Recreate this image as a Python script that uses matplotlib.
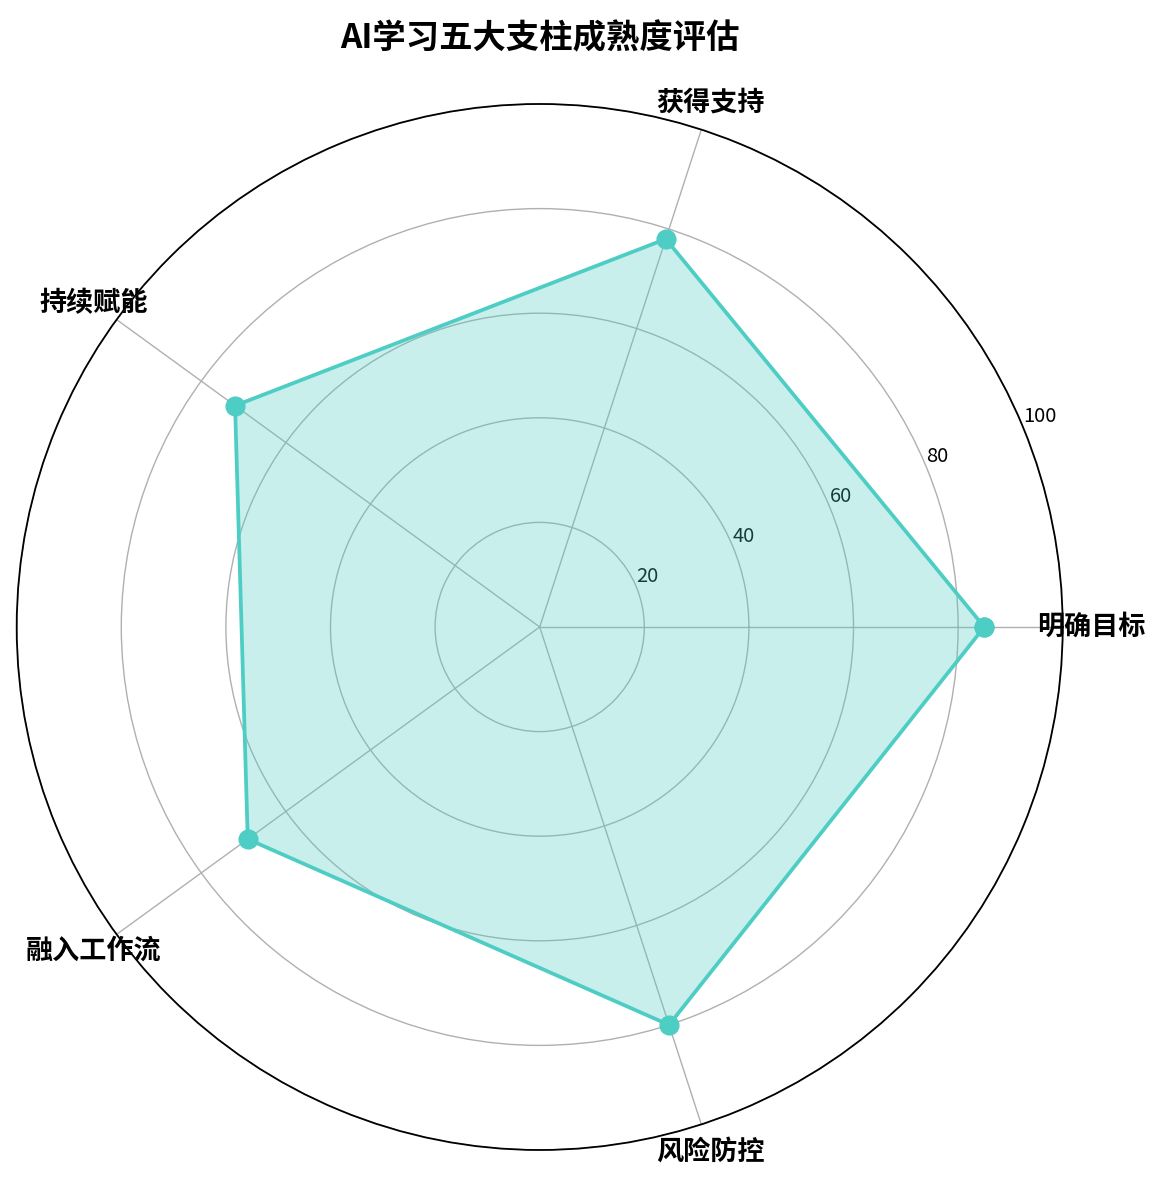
import numpy as np
import matplotlib
matplotlib.use("Agg")
import matplotlib.pyplot as plt

plt.rcParams["font.family"] = ["Noto Sans CJK SC", "DejaVu Sans"]

TITLE = "AI学习五大支柱成熟度评估"
categories = ["明确目标", "获得支持", "持续赋能", "融入工作流", "风险防控"]
scores = [85, 78, 72, 69, 80]
r_ticks = [20, 40, 60, 80, 100]

LINE_COLOR = "#4ECDC4"

angles = np.linspace(0, 2 * np.pi, len(categories), endpoint=False).tolist()
closed_angles = angles + angles[:1]
closed_scores = scores + scores[:1]

fig = plt.figure(figsize=(11.61, 11.83), dpi=100)
ax = fig.add_axes([0.01436, 0.0279, 0.901, 0.8842], polar=True)

ax.plot(closed_angles, closed_scores, color=LINE_COLOR, linewidth=2.7,
        marker="o", markersize=13.5, zorder=3)
ax.fill(closed_angles, closed_scores, color=LINE_COLOR, alpha=0.3, zorder=2)

ax.set_ylim(0, 100)
ax.set_yticks(r_ticks)
ax.set_yticklabels([str(t) for t in r_ticks], fontsize=14.5)
ax.set_xticks(angles)
ax.set_xticklabels(categories, fontsize=19.5, fontweight="bold")
ax.tick_params(axis="x", pad=10)
ax.grid(color="#b0b0b0", linewidth=1)
ax.spines["polar"].set_linewidth(1.3)

ax.set_title(TITLE, fontsize=24, fontweight="bold", pad=40)

fig.savefig("out.png", dpi=100)
